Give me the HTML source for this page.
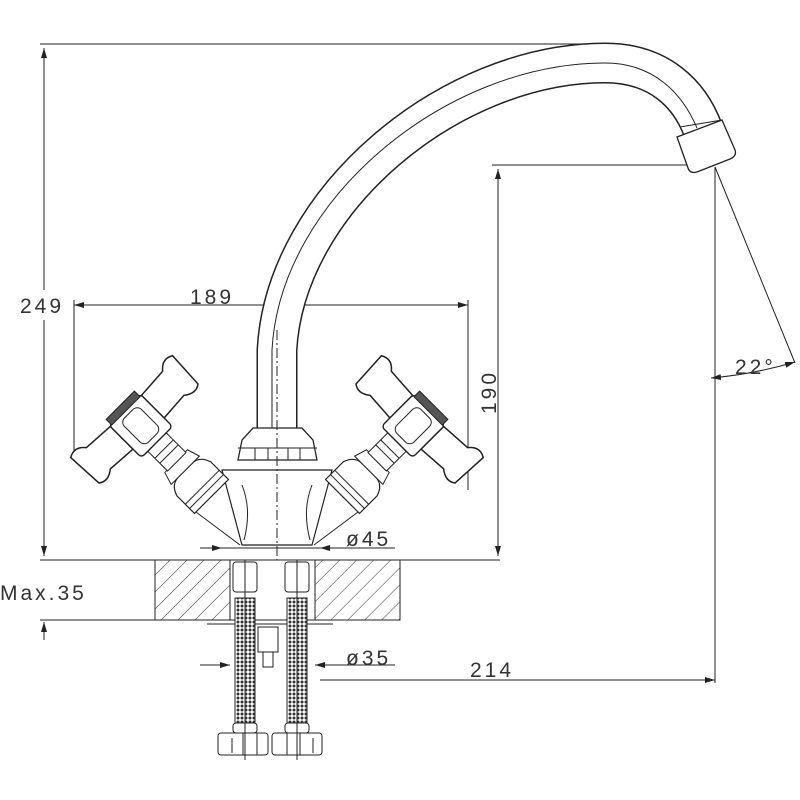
<!DOCTYPE html>
<html><head><meta charset="utf-8"><style>
html,body{margin:0;padding:0;background:#fff}
svg{display:block}
text{font-family:"Liberation Sans",sans-serif;font-size:21px;fill:#333;letter-spacing:3px}
</style></head><body>
<svg width="800" height="800" viewBox="0 0 800 800" xmlns="http://www.w3.org/2000/svg">
<defs>
<pattern id="h" width="12" height="12" patternUnits="userSpaceOnUse" patternTransform="rotate(45)">
<line x1="0" y1="0" x2="0" y2="12" stroke="#333" stroke-width="1"/></pattern>
<pattern id="m" width="4" height="4" patternUnits="userSpaceOnUse">
<rect width="4" height="4" fill="#fff"/><circle cx="2" cy="2" r="1.5" fill="#333"/></pattern>
<marker id="a" viewBox="0 0 10 6" refX="10" refY="3" markerWidth="10" markerHeight="6" orient="auto-start-reverse"><path d="M0,0L10,3L0,6z" fill="#222"/></marker>
<g id="hd" stroke="#222" fill="#fff">
<path d="M-24,-5 L24,-5 L24,-30 Q20,-42 10,-42 L-10,-42 Q-20,-42 -24,-30 Z" stroke-width="1.2"/>
<line x1="-24" y1="-12" x2="24" y2="-12"/><line x1="-24" y1="-18" x2="24" y2="-18"/>
<path d="M-20,-42 L20,-42 L16,-55 L-16,-55 Z"/>
<rect x="-13" y="-55" width="26" height="28" transform="translate(0,-27)"/>
<line x1="-13" y1="-65" x2="13" y2="-65"/><line x1="-13" y1="-72" x2="13" y2="-72"/>
<path d="M22,-94 L52,-96 Q62,-88 70,-94 L72,-132 Q62,-138 54,-128 L22,-126 Z" stroke-width="1.5"/>
<path d="M-22,-94 L-52,-96 Q-62,-88 -70,-94 L-72,-132 Q-62,-138 -54,-128 L-22,-126 Z" stroke-width="1.5"/>
<rect x="-22" y="-128" width="44" height="46" rx="4" stroke-width="1.4"/>
<rect x="-12" y="-122" width="24" height="34" rx="6"/>
<rect x="-20" y="-134" width="40" height="8" fill="#555"/>
</g>
</defs>
<g stroke="#222" stroke-width="1" fill="none">
<line x1="40" y1="44" x2="615" y2="44"/>
<line x1="44" y1="48" x2="44" y2="290" marker-start="url(#a)"/>
<line x1="44" y1="320" x2="44" y2="556" marker-end="url(#a)"/>
<line x1="40" y1="560" x2="230" y2="560"/>
<line x1="315" y1="560" x2="500" y2="560"/>
<line x1="40" y1="620" x2="155" y2="620"/>
<line x1="44" y1="640" x2="44" y2="622" marker-end="url(#a)"/>
<line x1="74" y1="305" x2="468" y2="305" marker-start="url(#a)" marker-end="url(#a)"/>
<line x1="74" y1="300" x2="74" y2="455"/>
<line x1="468" y1="300" x2="468" y2="490"/>
<line x1="492" y1="165" x2="715" y2="165"/>
<line x1="498" y1="169" x2="498" y2="556" marker-start="url(#a)" marker-end="url(#a)"/>
<line x1="715" y1="167" x2="715" y2="683"/>
<line x1="715" y1="167" x2="795" y2="363"/>
<path d="M711,378 Q755,374 795,362" marker-start="url(#a)" marker-end="url(#a)"/>
<line x1="320" y1="680" x2="715" y2="680" marker-end="url(#a)"/>
<line x1="200" y1="548" x2="222" y2="548" marker-end="url(#a)"/>
<line x1="222" y1="548" x2="320" y2="548"/>
<line x1="340" y1="548" x2="320" y2="548" marker-end="url(#a)"/>
<line x1="340" y1="548" x2="395" y2="548"/>
<line x1="200" y1="665" x2="230" y2="665" marker-end="url(#a)"/>
<line x1="345" y1="665" x2="315" y2="665" marker-end="url(#a)"/>
<line x1="345" y1="665" x2="395" y2="665"/>
<rect x="155" y="560" width="75" height="60" fill="url(#h)"/>
<rect x="315" y="560" width="85" height="60" fill="url(#h)"/>
<line x1="155" y1="560" x2="400" y2="560"/><line x1="155" y1="620" x2="400" y2="620"/>
<line x1="207" y1="624" x2="333" y2="624"/>
<path d="M277,432 L277,350 C285,200 450,63 605,63 C660,63 690,95 703,130" stroke="#222" stroke-width="41"/>
<path d="M277,432 L277,350 C285,200 450,63 605,63 C660,63 690,95 703,130" stroke="#fff" stroke-width="38"/>
<path d="M272,430 L272,350 C280,200 445,63 605,63 C655,63 683,95 697,128" stroke-width="1"/>
<line x1="277" y1="330" x2="277" y2="560" stroke-dasharray="10,3,2,3"/>
<path d="M677,137 L722,120 L735,150 Q737,156 730,159 L697,172 Q690,174 688,168 Z" fill="#fff" stroke-width="1.3"/>
<line x1="680" y1="127" x2="722" y2="120"/>
<path d="M222,470 L332,470 L312,545 L242,545 Z" fill="#fff" stroke-width="1.2"/>
<path d="M242,485 Q252,510 244,540 M312,485 Q302,510 310,540"/>
<path d="M238,460 L242,440 L253,428 L302,428 L313,440 L317,460 Z" fill="#fff" stroke-width="1.3"/>
<line x1="238" y1="448" x2="317" y2="448"/>
<path d="M255,448 v12 M268,448 v12 M288,448 v12 M300,448 v12"/>
<line x1="277" y1="420" x2="277" y2="560" stroke-dasharray="10,3,2,3"/>
<use href="#hd" transform="translate(215,500) rotate(-45)"/>
<g transform="translate(554,0) scale(-1,1)"><use href="#hd" transform="translate(215,500) rotate(-45)"/></g>
<path d="M196,512 L240,545 M358,512 L314,545"/>
<g fill="#fff">
<rect x="233" y="562" width="24" height="30" rx="3"/><rect x="285" y="562" width="24" height="30" rx="3"/>
<rect x="235" y="598" width="20" height="125" fill="url(#m)"/><rect x="287" y="598" width="20" height="125" fill="url(#m)"/>
<rect x="233" y="723" width="24" height="10" rx="3"/><rect x="285" y="723" width="24" height="10" rx="3"/>
<rect x="218" y="733" width="50" height="22" rx="3"/><rect x="272" y="733" width="50" height="22" rx="3"/>
<rect x="258" y="627" width="20" height="25"/><rect x="263" y="652" width="10" height="15"/>
</g>
<path d="M232,738 v15 M243,733 v22 M257,733 v22 M287,733 v22 M300,733 v22 M313,738 v15"/>
<line x1="245" y1="560" x2="245" y2="760"/><line x1="297" y1="560" x2="297" y2="760"/>
</g>
<text x="20" y="313">249</text>
<text x="190" y="304">189</text>
<text x="0" y="600" letter-spacing="2">Max.35</text>
<text x="346" y="546">ø45</text>
<text x="346" y="665">ø35</text>
<text x="470" y="677">214</text>
<text x="735" y="374" font-size="18">22°</text>
<text transform="translate(496,414) rotate(-90)">190</text>
</svg>
</body></html>
